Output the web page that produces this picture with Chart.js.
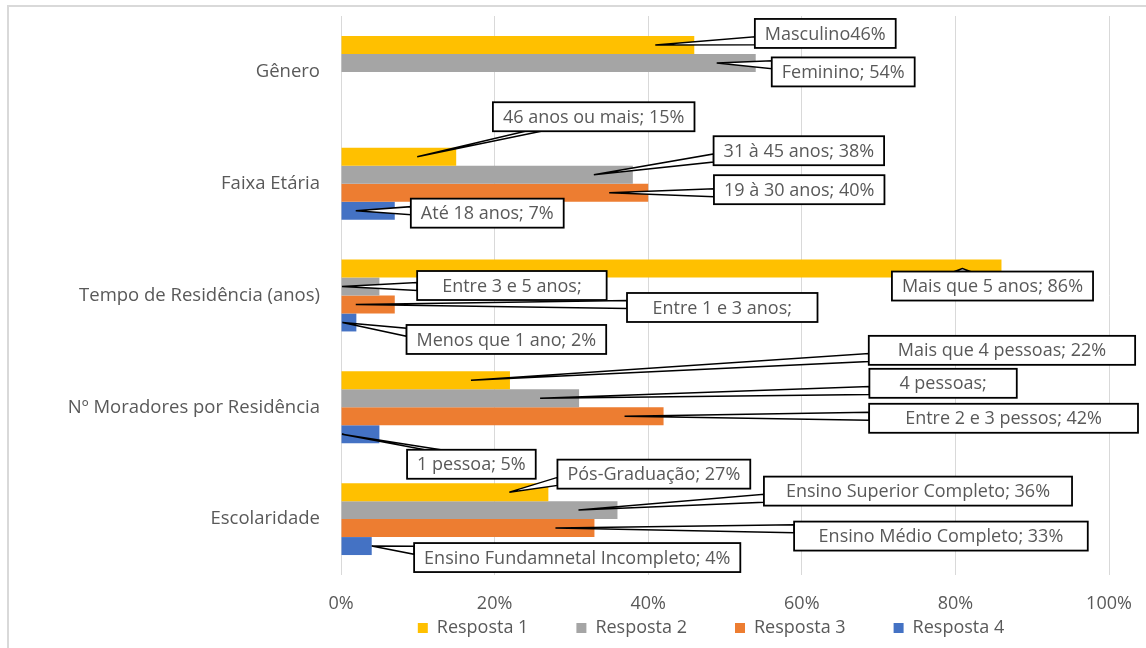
<!DOCTYPE html>
<html lang="pt-BR">
<head>
<meta charset="utf-8">
<title>Perfil dos entrevistados</title>
<script src="https://cdn.jsdelivr.net/npm/chart.js@4.4.1/dist/chart.umd.min.js"></script>
<style>
    html, body { margin: 0; padding: 0; background: #fff; overflow: hidden; }
    #frame {
        position: absolute; left: 7px; top: 5px;
        width: 1400px; height: 800px;
        border: 2px solid #d9d9d9;
    }
    #chart { position: absolute; left: 0; top: 0; }
</style>
</head>
<body>
<div id="frame"></div>
<canvas id="chart" width="1146" height="648"></canvas>
<script>
// categorias e respostas (%)
const categorias = ['Gênero', 'Faixa Etária', 'Tempo de Residência (anos)', 'Nº Moradores por Residência', 'Escolaridade']
const respostas = ['Resposta 1', 'Resposta 2', 'Resposta 3', 'Resposta 4']
const resposta1 = [46, 15, 86, 22, 27]
const resposta2 = [54, 38, 5, 31, 36]
const resposta3 = [null, 40, 7, 42, 33]
const resposta4 = [null, 7, 2, 5, 4]
const xTicks = [0, 20, 40, 60, 80, 100]

// textos dos rótulos, {v} recebe o valor da barra
const rotulos1 = ['Masculino{v}%', '46 anos ou mais; {v}%', 'Mais que 5 anos; {v}%', 'Mais que 4 pessoas; {v}%', 'Pós-Graduação; {v}%']
const rotulos2 = ['Feminino; {v}%', '31 à 45 anos; {v}%', 'Entre 3 e 5 anos;', '4 pessoas;', 'Ensino Superior Completo; {v}%']
const rotulos3 = [null, '19 à 30 anos; {v}%', 'Entre 1 e 3 anos;', 'Entre 2 e 3 pessos; {v}%', 'Ensino Médio Completo; {v}%']
const rotulos4 = [null, 'Até 18 anos; {v}%', 'Menos que 1 ano; {v}%', '1 pessoa; {v}%', 'Ensino Fundamnetal Incompleto; {v}%']

const cores = ['#FFC000', '#A5A5A5', '#ED7D31', '#4472C4']
const valores = [resposta1, resposta2, resposta3, resposta4]
const rotulos = [rotulos1, rotulos2, rotulos3, rotulos4]

// caixa de cada rótulo em relação à ponta da barra: [dx, dy, ponta da seta, largura extra]
const caixas = [
    [[131, -11.5, -39, 0], [137.5, -40, -39, 0], [-9, 17.5, -39, 0], [492, -30, -39, 38], [105.5, -18, -39, 0]],
    [[87.5, 9, -39, 0], [166, -24, -39, 0], [132.5, -1, -39, 30], [364, -15, -39, 40], [300.5, -19, -39, 24]],
    [null, [151, -3, -39, 0], [327.5, 3, -39, 31], [340, 2, -39, 52], [346.5, 8, -39, 29]],
    [null, [92.5, 2.5, -39, 0], [150, 17, -14, 0], [92, 30, -39, 0], [205.5, 11.5, 0, 0]],
]

const corTexto = '#595959'
const fonte = 'Open Sans'

function drawCallout(ctx, cx, cy, w, h, px, py, text) {
    const l = cx - w / 2
    const r = cx + w / 2
    const t = cy - h / 2
    const b = cy + h / 2
    const nx = (px - cx) / (w / 2)
    const ny = (py - cy) / (h / 2)
    let b1, b2
    if (Math.abs(nx) > Math.abs(ny)) {
        const ex = nx < 0 ? l : r
        const m = Math.min(Math.max(py, t + h * 0.25), b - h * 0.25)
        b1 = [ex, m - 4]
        b2 = [ex, m + 4]
    } else {
        const ey = ny < 0 ? t : b
        const m = Math.min(Math.max(px, l + w * 0.2), r - w * 0.2)
        b1 = [m - 8, ey]
        b2 = [m + 8, ey]
    }
    ctx.lineWidth = 1.5
    ctx.strokeStyle = '#000'
    ctx.fillStyle = '#fff'
    ctx.beginPath()
    ctx.moveTo(px, py)
    ctx.lineTo(b1[0], b1[1])
    ctx.lineTo(b2[0], b2[1])
    ctx.closePath()
    ctx.fill()
    ctx.stroke()

    ctx.lineWidth = 1.8
    ctx.fillRect(l, t, w, h)
    ctx.strokeRect(l, t, w, h)
    ctx.fillStyle = corTexto
    ctx.fillText(text, cx, cy + 1)
}

const calloutPlugin = {
    id: 'callouts',
    afterDatasetsDraw(chart) {
        const ctx = chart.ctx
        const area = chart.chartArea
        ctx.save()
        ctx.font = '18px "' + fonte + '"'
        ctx.textAlign = 'center'
        ctx.textBaseline = 'middle'
        rotulos.forEach((lista, s) => {
            const meta = chart.getDatasetMeta(s)
            lista.forEach((tpl, i) => {
                if (!tpl || !caixas[s][i]) return
                const bar = meta.data[i]
                const [dx, dy, ax, extra] = caixas[s][i]
                const text = tpl.replace('{v}', valores[s][i])
                const w = ctx.measureText(text).width + 20 + extra
                const px = Math.max(bar.x + ax, area.left + 1)
                drawCallout(ctx, bar.x + dx, bar.y + dy, w, 29, px, bar.y, text)
            })
        })
        ctx.restore()
    },
}

// legenda logo abaixo dos rótulos do eixo x
const legendShift = {
    id: 'legendShift',
    afterLayout(chart) {
        const lg = chart.legend
        lg.top -= 42
        lg.bottom -= 42
        lg.left -= 14
        lg.right -= 14
    },
}

const ctx = document.getElementById('chart').getContext('2d')
new Chart(ctx, {
    type: 'bar',
    data: {
        labels: categorias,
        datasets: respostas.map((nome, s) => ({
            label: nome,
            data: valores[s],
            backgroundColor: cores[s],
            borderWidth: 0,
            categoryPercentage: 0.643,
            barPercentage: 1.0,
        })),
    },
    plugins: [calloutPlugin, legendShift],
    options: {
        indexAxis: 'y',
        responsive: false,
        maintainAspectRatio: false,
        devicePixelRatio: 1,
        animation: false,
        events: [],
        layout: { padding: { left: 0, right: 37, top: 16, bottom: -41 } },
        scales: {
            x: {
                min: 0,
                max: 100,
                afterBuildTicks: (scale) => {
                    scale.ticks = xTicks.map((v) => ({ value: v }))
                },
                afterFit: (scale) => {
                    scale.height = 38
                    scale.paddingLeft = 0
                    scale.paddingRight = 0
                },
                grid: { color: '#d9d9d9', lineWidth: 1, drawTicks: false },
                border: { display: false },
                ticks: {
                    padding: 18,
                    color: corTexto,
                    font: { family: fonte, size: 18 },
                    callback: (v) => v + '%',
                },
            },
            y: {
                afterFit: (scale) => {
                    scale.width = 341
                    scale.paddingTop = 0
                    scale.paddingBottom = 0
                },
                grid: { display: false, drawTicks: false },
                border: { display: false },
                ticks: {
                    padding: 21,
                    color: corTexto,
                    font: { family: fonte, size: 18.5 },
                },
            },
        },
        plugins: {
            tooltip: { enabled: false },
            legend: {
                position: 'bottom',
                fullSize: false,
                labels: {
                    boxWidth: 10,
                    boxHeight: 10,
                    padding: 48,
                    color: corTexto,
                    font: { family: fonte, size: 18 },
                },
            },
        },
    },
})
</script>
</body>
</html>
